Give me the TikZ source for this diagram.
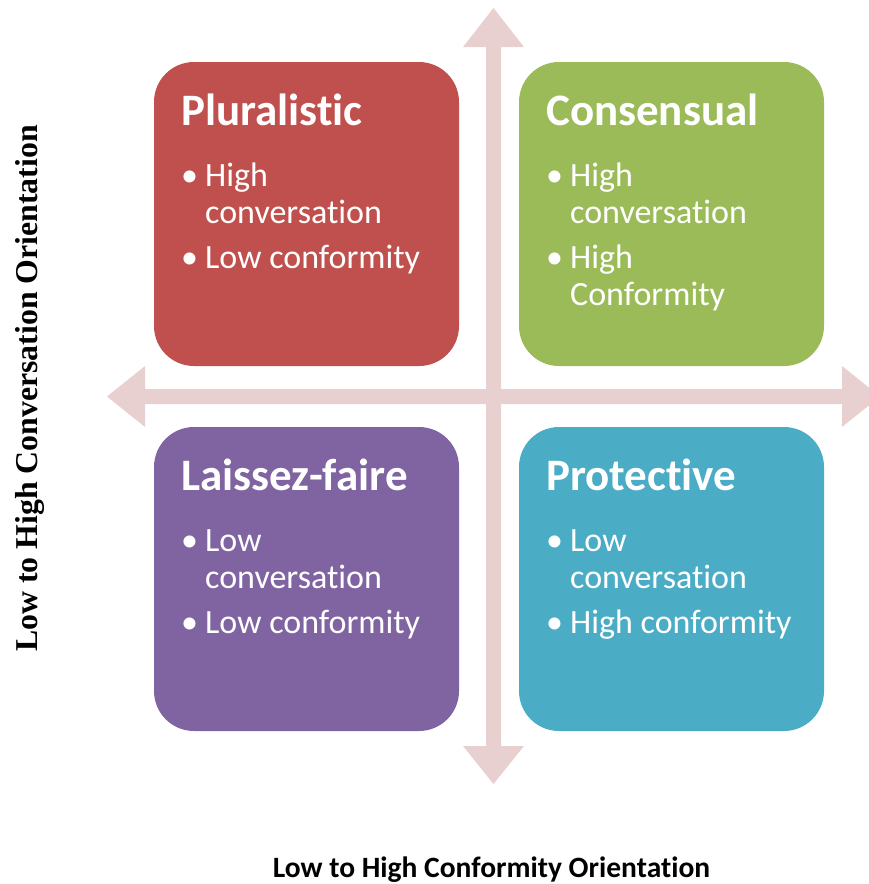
\documentclass[tikz,border=0pt]{standalone}
\usepackage{fontspec}
\setmainfont[Ligatures=NoCommon]{Carlito}
\newfontfamily\serifbold{Liberation Serif}
\definecolor{arrowc}{HTML}{E8D0D1}
\definecolor{cred}{HTML}{C0504D}
\definecolor{cgreen}{HTML}{9BBB59}
\definecolor{cpurple}{HTML}{8064A2}
\definecolor{cteal}{HTML}{4BACC6}
\tikzset{
  quad/.style={rectangle, rounded corners=40pt, minimum width=305pt, minimum height=304pt, inner sep=0pt},
  qtitle/.style={anchor=base west, inner sep=0pt, text=white, font=\fontsize{45}{54}\selectfont\bfseries},
  qbul/.style={anchor=base west, inner sep=0pt, text=white, font=\fontsize{34}{40}\selectfont},
}
\begin{document}
\begin{tikzpicture}[x=1pt,y=-1pt]
\useasboundingbox (0,0) rectangle (869,884);
\clip (0,0) rectangle (869,884);
% arrows
\fill[arrowc] (107,396.5) -- (145,366) -- (145,389) -- (842,389) -- (842,366) -- (880,396.5) -- (842,427) -- (842,404) -- (145,404) -- (145,427) -- cycle;
\fill[arrowc] (493.5,8) -- (524,47) -- (501,47) -- (501,746) -- (524,746) -- (493.5,784) -- (463,746) -- (486,746) -- (486,47) -- (463,47) -- cycle;
% boxes
\node[quad, fill=cred] (rb) at (306.5,214) {};
\node[quad, fill=cgreen] (gb) at (671.5,214) {};
\node[quad, fill=cpurple] (pb) at (306.5,579) {};
\node[quad, fill=cteal] (tb) at (671.5,579) {};
% red
\node[qtitle] (rt) at (181,125) {Pluralistic};
\node[qbul] (rb1) at (181,186) {•};
\node[qbul] (rl1) at (205,186) {High};
\node[qbul] (rl2) at (205,223) {conversation};
\node[qbul] (rb2) at (181,268) {•};
\node[qbul] (rl3) at (205,268) {Low conformity};
% green
\node[qtitle] (gt) at (546,125) {Consensual};
\node[qbul] (gb1) at (546,186) {•};
\node[qbul] (gl1) at (570,186) {High};
\node[qbul] (gl2) at (570,223) {conversation};
\node[qbul] (gb2) at (546,268) {•};
\node[qbul] (gl3) at (570,268) {High};
\node[qbul] (gl4) at (570,305) {Conformity};
% purple
\node[qtitle] (pt) at (181,490) {Laissez-faire};
\node[qbul] (pb1) at (181,551) {•};
\node[qbul] (pl1) at (205,551) {Low};
\node[qbul] (pl2) at (205,588) {conversation};
\node[qbul] (pb2) at (181,633) {•};
\node[qbul] (pl3) at (205,633) {Low conformity};
% teal
\node[qtitle] (tt) at (546,490) {Protective};
\node[qbul] (tb1) at (546,551) {•};
\node[qbul] (tl1) at (570,551) {Low};
\node[qbul] (tl2) at (570,588) {conversation};
\node[qbul] (tb2) at (546,633) {•};
\node[qbul] (tl3) at (570,633) {High conformity};
% axis labels
\node[rotate=90, anchor=base, inner sep=0pt, font=\serifbold\bfseries\fontsize{31.8}{36}\selectfont] (ylab) at (37,388.5) {Low to High Conversation Orientation};
\node[anchor=base, inner sep=0pt, font=\bfseries\fontsize{29.5}{34}\selectfont] (xlab) at (491.5,877) {Low to High Conformity Orientation};
\end{tikzpicture}
\end{document}
